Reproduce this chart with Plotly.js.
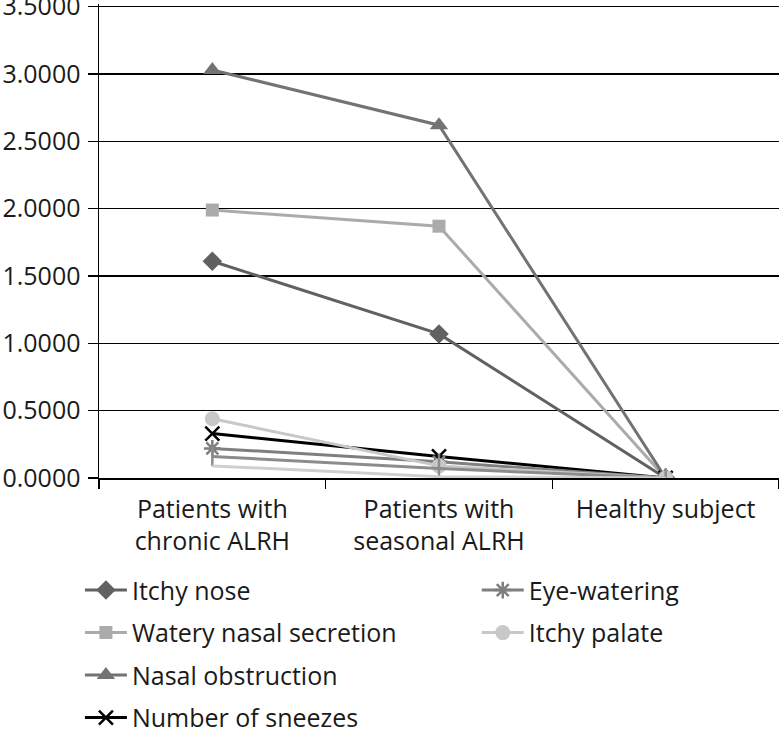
<!DOCTYPE html>
<html>
<head>
<meta charset="utf-8">
<script src="https://cdn.plot.ly/plotly-3.0.1.min.js"></script>
<style>html,body{margin:0;padding:0;background:#fff;}#chart{width:779px;height:733px;}</style>
</head>
<body>
<div id="chart"></div>
<script>
var categories = ["Patients with<br>chronic ALRH", "Patients with<br>seasonal ALRH", "Healthy subject"];
var itchyNose = [1.61, 1.07, 0.0];
var wateryNasalSecretion = [1.99, 1.87, 0.0];
var nasalObstruction = [3.03, 2.62, 0.0];
var numberOfSneezes = [0.33, 0.16, 0.0];
var eyeWatering = [0.22, 0.12, 0.0];
var itchyPalate = [0.44, 0.09, 0.0];
var unlabeledSeriesA = [0.16, 0.07, 0.0];
var unlabeledSeriesB = [0.09, 0.01, 0.0];
var yTickValues = [0, 0.5, 1, 1.5, 2, 2.5, 3, 3.5];

function tr(name, y, color, symbol, size, legend, open, show) {
  var m = {symbol: symbol, size: size, color: color};
  if (open) { m.line = {color: color, width: 2.5}; }
  return {
    type: 'scatter', mode: symbol ? 'lines+markers' : 'lines',
    x: categories, y: y, name: name,
    line: {color: color, width: 3},
    marker: m, legend: legend, legendgroup: name,
    showlegend: show !== false
  };
}

var data = [
  tr('Itchy nose', itchyNose, '#616161', 'diamond', 15, 'legend'),
  tr('Watery nasal secretion', wateryNasalSecretion, '#ababab', 'square', 13, 'legend'),
  tr('Nasal obstruction', nasalObstruction, '#737373', 'triangle-up', 16, 'legend'),
  tr('Number of sneezes', numberOfSneezes, '#000000', 'x-thin-open', 14, 'legend', true),
  tr('Eye-watering', eyeWatering, '#7f7f7f', 'asterisk-open', 14, 'legend2', true),
  tr('Itchy palate', itchyPalate, '#c8c8c8', 'circle', 15, 'legend2'),
  tr('A', unlabeledSeriesA, '#8c8c8c', 'line-ns-open', 14, 'legend2', true, false),
  tr('B', unlabeledSeriesB, '#cfcfcf', null, 0, 'legend2', false, false)
];

var fnt = {family: 'Open Sans, sans-serif', size: 25, color: '#1a1a1a'};

var layout = {
  width: 779, height: 733,
  margin: {l: 99, r: 0, t: 4.3, b: 255, autoexpand: false},
  paper_bgcolor: '#fff', plot_bgcolor: '#fff',
  font: fnt,
  xaxis: {
    type: 'category', tickson: 'boundaries', ticks: 'outside', ticklen: 9,
    tickcolor: '#000', tickwidth: 1.5, showgrid: false, showline: true,
    linecolor: '#000', linewidth: 1.5, tickfont: fnt, range: [-0.5, 2.5],
    zeroline: false, tickangle: 0, automargin: false, ticklabelstandoff: 8
  },
  yaxis: {
    range: [0, 3.52], tickvals: yTickValues, tickformat: '.4f',
    ticks: 'outside', ticklen: 10, tickcolor: '#000', tickwidth: 1.5,
    showgrid: true, gridcolor: '#000', gridwidth: 1.2,
    showline: true, linecolor: '#000', linewidth: 1.5,
    zeroline: false, tickfont: fnt, automargin: false,
    ticklabeloverflow: 'allow', ticklabelstandoff: 2
  },
  legend: {
    xref: 'container', yref: 'container', x: 0.1026, y: 0.226,
    xanchor: 'left', yanchor: 'top', orientation: 'v',
    tracegroupgap: 7, itemwidth: 42, font: fnt, bgcolor: 'rgba(0,0,0,0)'
  },
  legend2: {
    xref: 'container', yref: 'container', x: 0.612, y: 0.226,
    xanchor: 'left', yanchor: 'top', orientation: 'v',
    tracegroupgap: 7, itemwidth: 42, font: fnt, bgcolor: 'rgba(0,0,0,0)'
  },
  showlegend: true
};

Plotly.newPlot('chart', data, layout, {displayModeBar: false, staticPlot: true});
</script>
</body>
</html>
